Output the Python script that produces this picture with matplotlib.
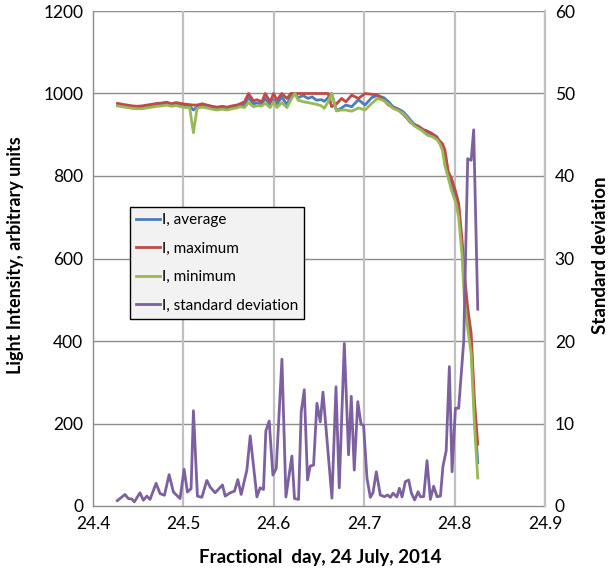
import matplotlib
matplotlib.use("Agg")
import matplotlib.pyplot as plt
from matplotlib.ticker import FormatStrFormatter

plt.rcParams['font.family'] = ['Lato', 'DejaVu Sans']

# ---- Data ----
t_lines = [24.4271, 24.4321, 24.4376, 24.4432, 24.4487, 24.4543, 24.4598, 24.4653,
           24.4709, 24.4764, 24.4814, 24.4869, 24.4919, 24.4969, 24.5024, 24.5069,
           24.5111, 24.5151, 24.5206, 24.5262, 24.5317, 24.5372, 24.5428, 24.5483,
           24.5539, 24.5591, 24.5628, 24.5676, 24.5720, 24.5775, 24.5812, 24.5868,
           24.5905, 24.5960, 24.5997, 24.6034, 24.6089, 24.6145, 24.6189, 24.6233,
           24.6269, 24.6325, 24.6380, 24.6424, 24.6469, 24.6528, 24.6558, 24.6602,
           24.6639, 24.6694, 24.6750, 24.6797, 24.6862, 24.6936, 24.7009, 24.7083,
           24.7149, 24.7215, 24.7270, 24.7318, 24.7381, 24.7429, 24.7473, 24.7510,
           24.7551, 24.7603, 24.7640, 24.7677, 24.7707, 24.7743, 24.7770, 24.7806,
           24.7836, 24.7866, 24.7893, 24.7930, 24.7966, 24.8014, 24.8045, 24.8082,
           24.8108, 24.8145, 24.8183, 24.8219, 24.8256]
i_max = [976, 974, 972, 970, 969, 970, 972, 974, 976, 977, 979, 975, 978, 976, 974, 973,
         972, 972, 975, 972, 969, 967, 969, 967, 970, 972, 975, 980, 1000, 982, 985, 980,
         1000, 980, 1000, 984, 1000, 988, 1000, 1000, 1000, 1000, 1000, 1000, 1000, 1000, 1000,
         1000, 968, 975, 988, 980, 996, 988, 1000, 998, 996, 984, 972, 966, 960, 950, 940,
         930, 924, 920, 912, 911, 908, 904, 899, 891,
         885, 878, 863, 810, 794, 760, 734, 645,
         564, 480, 419, 257, 150]
i_avg = [973, 971, 969, 967, 966, 967, 969, 971, 972, 973, 975, 972, 974, 972, 970, 969,
         960, 968, 971, 968, 966, 964, 965, 963, 966, 968, 971, 973, 990, 975, 977, 975,
         988, 972, 985, 974, 992, 972, 995, 1000, 990, 995, 988, 992, 984, 985, 981,
         990, 1000, 958, 965, 972, 968, 985, 972, 990, 995, 990, 980, 968, 962, 956, 946,
         936, 926, 920, 915, 908, 905, 902, 900, 895,
         882, 872, 850, 803, 780, 748, 720, 630,
         545, 460, 400, 230, 105]
i_min = [970, 968, 966, 964, 963, 963, 965, 967, 969, 970, 972, 969, 971, 968, 966, 966,
         905, 964, 967, 965, 962, 960, 962, 960, 963, 965, 968, 966, 978, 968, 970, 970,
         976, 966, 980, 966, 978, 966, 985, 1000, 984, 980, 978, 976, 974, 970, 964,
         980, 1000, 958, 960, 960, 957, 965, 960, 976, 988, 983, 974, 964, 958, 952, 942,
         932, 922, 915, 910, 903, 898, 896, 893, 888,
         878, 862, 825, 795, 765, 735, 700, 610,
         500, 430, 370, 200, 68]

t_std = [24.4269, 24.4354, 24.4391, 24.4429, 24.4457, 24.4520, 24.4557, 24.4595, 24.4631,
         24.4698, 24.4742, 24.4790, 24.4842, 24.4889, 24.4963, 24.5008, 24.5044, 24.5085,
         24.5111, 24.5155, 24.5204, 24.5259, 24.5296, 24.5351, 24.5432, 24.5462, 24.5517,
         24.5565, 24.5602, 24.5639, 24.5702, 24.5739, 24.5813, 24.5849, 24.5886, 24.5912,
         24.5949, 24.5990, 24.6027, 24.6090, 24.6134, 24.6200, 24.6229, 24.6274, 24.6303,
         24.6337, 24.6373, 24.6403, 24.6440, 24.6477, 24.6514, 24.6544, 24.6643, 24.6688,
         24.6724, 24.6780, 24.6827, 24.6857, 24.6890, 24.6929, 24.6965, 24.6993, 24.7031,
         24.7068, 24.7097, 24.7134, 24.7178, 24.7223, 24.7259, 24.7289, 24.7319, 24.7361,
         24.7389, 24.7419, 24.7455, 24.7492, 24.7522, 24.7558, 24.7596, 24.7621, 24.7658,
         24.7695, 24.7732, 24.7768, 24.7806, 24.7843, 24.7871, 24.7907, 24.7942, 24.7972,
         24.8009, 24.8045, 24.8101, 24.8145, 24.8183, 24.8211, 24.8256]
i_std = [0.65, 1.4, 0.9, 0.85, 0.5, 1.6, 0.7, 1.2, 0.8,
         2.75, 1.5, 1.3, 3.8, 1.7, 0.9, 4.45, 1.7, 2.1,
         11.55, 1.2, 1.05, 3.1, 2.3, 1.6, 2.55, 1.2, 1.6,
         1.8, 3.2, 1.4, 4.35, 8.5, 1.1, 2.2, 2.0, 9.1,
         10.3, 3.75, 4.55, 17.8, 1.1, 6.05, 0.9, 0.8, 11.4,
         14.1, 3.15, 4.85, 4.95, 12.45, 10.2, 13.8, 0.95, 14.45,
         2.2, 19.7, 6.2, 13.3, 4.35, 12.65, 9.9, 9.8, 3.35,
         1.05, 1.6, 4.15, 1.33, 1.13, 1.33, 1.05, 1.55, 1.1,
         2.15, 1.1, 2.95, 3.15, 1.55, 0.73, 1.73, 1.13, 1.13,
         5.5, 0.8, 2.4, 1.13, 1.2, 4.8, 6.7, 16.9, 4.15,
         11.85, 11.85, 20.0, 42.1, 41.9, 45.6, 23.85]

x_ticks = [24.4, 24.5, 24.6, 24.7, 24.8, 24.9]
y_left_ticks = [0, 200, 400, 600, 800, 1000, 1200]
y_right_ticks = [0, 10, 20, 30, 40, 50, 60]
series_names = ['I, average', 'I, maximum', 'I, minimum', 'I, standard deviation']
colors = ['#4A7EBB', '#BE4B48', '#98B954', '#7D60A0']

W, H = 616, 573
fig = plt.figure(figsize=(W/100, H/100), dpi=100)
ax = fig.add_axes([93/W, 1-506/H, 452/W, 495/H])
ax2 = ax.twinx()

lw = 2.0
l1, = ax.plot(t_lines, i_avg, color=colors[0], lw=lw, label=series_names[0], zorder=3)
l2, = ax.plot(t_lines, i_max, color=colors[1], lw=lw, label=series_names[1], zorder=3)
l3, = ax.plot(t_lines, i_min, color=colors[2], lw=lw, label=series_names[2], zorder=3)
l4, = ax2.plot(t_std, i_std, color=colors[3], lw=lw, label=series_names[3], zorder=3)

ax.set_xlim(24.4, 24.9)
ax.set_ylim(0, 1200)
ax2.set_ylim(0, 60)
ax.set_xticks(x_ticks)
ax.set_yticks(y_left_ticks)
ax2.set_yticks(y_right_ticks)
ax.xaxis.set_major_formatter(FormatStrFormatter('%.1f'))

for y in y_left_ticks[1:]:
    ax.axhline(y, color='#8C8C8C', lw=1.0, zorder=1)
for x in x_ticks[1:]:
    ax.axvline(x, color='#C0C0C0', lw=1.6, zorder=1)

for a in (ax, ax2):
    for s in a.spines.values():
        s.set_color('#8C8C8C')
        s.set_linewidth(1.0)
    a.spines['top'].set_visible(False)
ax.spines['right'].set_visible(False)
ax2.spines['right'].set_color('#C0C0C0')
ax2.spines['right'].set_linewidth(1.6)
ax2.spines['left'].set_visible(False)
ax2.spines['bottom'].set_visible(False)

fs = 12.5
ax.tick_params(axis='both', length=0, labelsize=fs, colors='black', pad=7)
ax2.tick_params(axis='y', length=0, labelsize=fs, colors='black', pad=7)

fig.text(320/W, 1-558/H, 'Fractional  day, 24 July, 2014', fontsize=13.5,
         fontweight='bold', ha='center', va='center')
fig.text(16/W, 1-255/H, 'Light Intensity, arbitrary units', fontsize=13,
         fontweight='bold', ha='center', va='center', rotation=90)
fig.text(601/W, 1-255/H, 'Standard deviation', fontsize=13.5,
         fontweight='bold', ha='center', va='center', rotation=90)

leg = ax2.legend(handles=[l1, l2, l3, l4], loc='upper left',
                 bbox_to_anchor=((130-93)/452, (506-207)/495), borderaxespad=0,
                 fontsize=11, frameon=True, fancybox=False, edgecolor='black',
                 facecolor='#F2F2F2', framealpha=1,
                 handlelength=1.55, handletextpad=0.15, labelspacing=0.95, borderpad=0.4)
leg.get_frame().set_linewidth(1.0)
leg.set_zorder(10)

fig.savefig('out.png', dpi=100)
